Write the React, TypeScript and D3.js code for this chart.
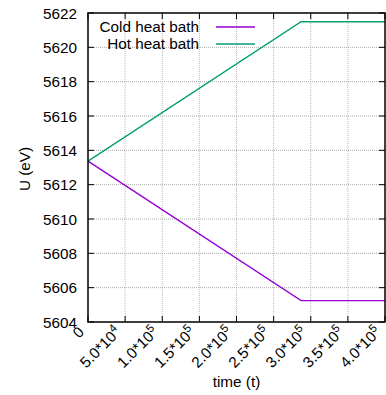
import React from "react";
import * as d3 from "d3";

const tValues = [0, 287000, 400000];
const coldValues = [5613.37, 5605.25, 5605.25];
const hotValues = [5613.37, 5621.49, 5621.49];
const xTicks = [0, 50000, 100000, 150000, 200000, 250000, 300000, 350000, 400000];
const xTickMant = ["0", "5.0", "1.0", "1.5", "2.0", "2.5", "3.0", "3.5", "4.0"];
const xTickExp = ["", "4", "5", "5", "5", "5", "5", "5", "5"];
const yTicks = [5604, 5606, 5608, 5610, 5612, 5614, 5616, 5618, 5620, 5622];
const seriesNames = ["Cold heat bath", "Hot heat bath"];
const seriesColors = ["#9400d3", "#009e73"];

export default function App() {
  const W = 386, H = 395;
  const L = 88, R = 385, T = 13, B = 322;
  const fs = 15.3;
  const x = d3.scaleLinear().domain([0, 400000]).range([L, R]);
  const y = d3.scaleLinear().domain([5604, 5622]).range([B, T]);
  const line = d3
    .line<number>()
    .x((_, i) => x(tValues[i]))
    .y((d) => y(d));
  const font = "Liberation Sans, Arial, sans-serif";
  const series = [coldValues, hotValues];
  return (
    <svg
      width={W}
      height={H}
      style={{ position: "absolute", left: 0, top: 0 }}
      fontFamily={font}
    >
      <rect x={0} y={0} width={W} height={H} fill="#fff" />
      {/* grid */}
      {xTicks.slice(1, -1).map((t) => (
        <line
          key={"gx" + t}
          x1={x(t)}
          x2={x(t)}
          y1={T}
          y2={B}
          stroke="#bbb"
          strokeWidth={1}
          strokeDasharray="1,1"
        />
      ))}
      {yTicks.slice(1, -1).map((v) => (
        <line
          key={"gy" + v}
          x1={L}
          x2={R}
          y1={y(v)}
          y2={y(v)}
          stroke="#aaa"
          strokeWidth={1}
          strokeDasharray="1,1"
        />
      ))}
      {/* ticks */}
      {xTicks.map((t) => (
        <g key={"tx" + t}>
          <line x1={x(t)} x2={x(t)} y1={B} y2={B - 6} stroke="#000" strokeWidth={1} />
          <line x1={x(t)} x2={x(t)} y1={T} y2={T + 6} stroke="#000" strokeWidth={1} />
        </g>
      ))}
      {yTicks.map((v) => (
        <g key={"ty" + v}>
          <line x1={L} x2={L + 6} y1={y(v)} y2={y(v)} stroke="#000" strokeWidth={1} />
          <line x1={R} x2={R - 6} y1={y(v)} y2={y(v)} stroke="#000" strokeWidth={1} />
          <text
            x={L - 11}
            y={y(v)}
            dy="0.36em"
            textAnchor="end"
            fontSize={fs}
            fill="#000"
          >
            {v}
          </text>
        </g>
      ))}
      {/* x tick labels */}
      {xTicks.map((t, i) => (
        <text
          key={"xl" + t}
          transform={`translate(${x(t) - 3},${B + 11}) rotate(-45)`}
          textAnchor="end"
          fontSize={fs}
          fill="#000"
        >
          {xTickMant[i]}
          {xTickExp[i] ? (
            <>
              <tspan>*10</tspan>
              <tspan dy={-6} fontSize={11.5}>
                {xTickExp[i]}
              </tspan>
            </>
          ) : null}
        </text>
      ))}
      {/* lines */}
      {series.map((s, i) => (
        <path
          key={"s" + i}
          d={line(s) || ""}
          fill="none"
          stroke={seriesColors[i]}
          strokeWidth={1.3}
        />
      ))}
      {/* border */}
      <rect x={L} y={T} width={R - L} height={B - T} fill="none" stroke="#000" strokeWidth={1.5} />
      {/* legend */}
      {seriesNames.map((n, i) => (
        <g key={"lg" + i}>
          <text
            x={199}
            y={26 + i * 17}
            dy="0.36em"
            textAnchor="end"
            fontSize={fs}
            fill="#000"
          >
            {n}
          </text>
          <line
            x1={216}
            x2={255}
            y1={27 + i * 17}
            y2={27 + i * 17}
            stroke={seriesColors[i]}
            strokeWidth={1.3}
          />
        </g>
      ))}
      {/* axis titles */}
      <text x={236.5} y={387} textAnchor="middle" fontSize={fs} fill="#000">
        time (t)
      </text>
      <text
        transform={`translate(30,169) rotate(-90)`}
        textAnchor="middle"
        fontSize={fs}
        fill="#000"
      >
        U (eV)
      </text>
    </svg>
  );
}
